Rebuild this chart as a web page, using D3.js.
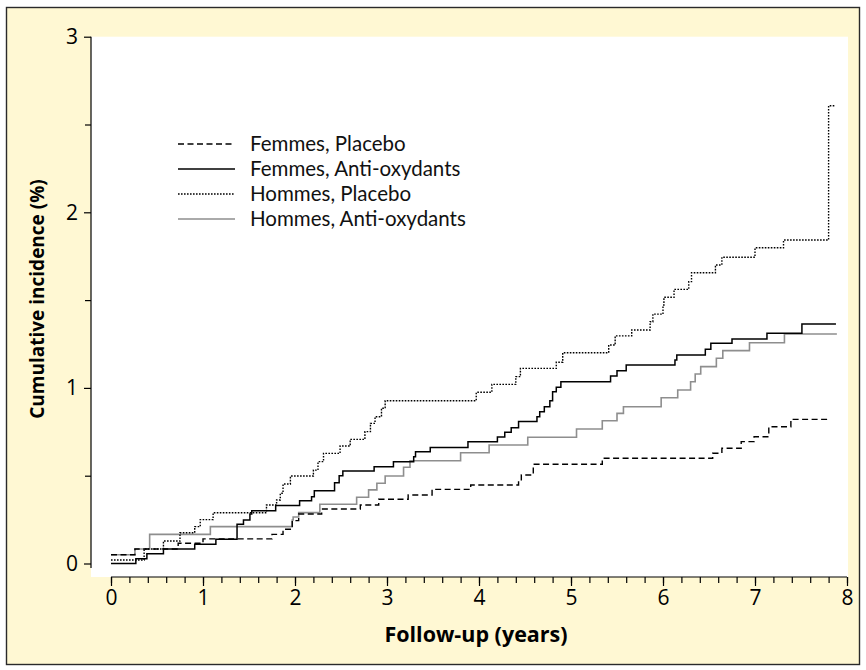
<!DOCTYPE html>
<html>
<head>
<meta charset="utf-8">
<script src="https://cdn.jsdelivr.net/npm/d3@7"></script>
<style>
  html, body { margin: 0; padding: 0; background: #ffffff; }
  svg { display: block; }
</style>
</head>
<body>
<svg id="chart" width="866" height="670"></svg>
<script>
// ---- Data ----
const seriesNames = ["Femmes, Placebo", "Femmes, Anti-oxydants", "Hommes, Placebo", "Hommes, Anti-oxydants"];

// Femmes, Placebo (dashed)
const fpTime  = [0, 0.26, 0.73, 1.0, 1.75, 1.87, 1.97, 2.04, 2.29, 2.71, 2.91, 3.23, 3.49, 3.91, 4.43, 4.46, 4.59, 5.34, 6.54, 6.64, 6.85, 6.99, 7.15, 7.39, 7.79];
const fpValue = [0.05, 0.083, 0.115, 0.14, 0.166, 0.195, 0.244, 0.282, 0.31, 0.333, 0.366, 0.39, 0.422, 0.447, 0.472, 0.504, 0.565, 0.599, 0.628, 0.656, 0.694, 0.722, 0.779, 0.821, 0.821];

// Femmes, Anti-oxydants (solid black)
const faTime  = [0, 0.27, 0.39, 0.57, 0.91, 1.14, 1.37, 1.44, 1.51, 1.53, 1.79, 2.05, 2.18, 2.21, 2.43, 2.48, 2.52, 2.86, 3.07, 3.29, 3.31, 3.47, 3.88, 4.20, 4.28, 4.35, 4.43, 4.63, 4.66, 4.71, 4.77, 4.80, 4.84, 4.89, 5.43, 5.50, 5.60, 6.13, 6.15, 6.46, 6.52, 6.75, 7.13, 7.51, 7.88];
const faValue = [0, 0.027, 0.055, 0.083, 0.109, 0.138, 0.223, 0.248, 0.282, 0.30, 0.33, 0.358, 0.38, 0.415, 0.46, 0.50, 0.527, 0.551, 0.58, 0.608, 0.637, 0.66, 0.694, 0.72, 0.747, 0.773, 0.808, 0.836, 0.864, 0.893, 0.927, 0.978, 1.003, 1.035, 1.068, 1.098, 1.13, 1.159, 1.187, 1.22, 1.254, 1.278, 1.311, 1.364, 1.364];

// Hommes, Placebo (dotted)
const hpTime  = [0, 0.36, 0.57, 0.75, 0.91, 0.97, 1.11, 1.69, 1.80, 1.84, 1.87, 1.95, 2.20, 2.25, 2.31, 2.49, 2.60, 2.76, 2.82, 2.87, 2.94, 2.98, 3.97, 4.14, 4.40, 4.45, 4.84, 4.91, 5.41, 5.48, 5.66, 5.86, 5.89, 6.0, 6.01, 6.12, 6.28, 6.31, 6.57, 6.64, 7.0, 7.31, 7.80, 7.87];
const hpValue = [0.02, 0.083, 0.128, 0.175, 0.21, 0.25, 0.289, 0.333, 0.362, 0.40, 0.453, 0.498, 0.532, 0.58, 0.627, 0.669, 0.707, 0.751, 0.798, 0.836, 0.884, 0.927, 0.975, 1.02, 1.064, 1.111, 1.146, 1.2, 1.244, 1.296, 1.33, 1.377, 1.42, 1.472, 1.516, 1.561, 1.605, 1.656, 1.70, 1.744, 1.798, 1.842, 2.607, 2.607];

// Hommes, Anti-oxydants (solid grey)
const haTime  = [0, 0.26, 0.42, 1.08, 1.97, 1.98, 2.04, 2.27, 2.67, 2.80, 2.89, 2.98, 3.18, 3.25, 3.80, 4.11, 4.53, 5.06, 5.34, 5.50, 5.57, 5.98, 6.16, 6.30, 6.35, 6.41, 6.58, 6.65, 6.94, 7.32, 7.89];
const haValue = [0.05, 0.083, 0.166, 0.21, 0.248, 0.265, 0.29, 0.337, 0.377, 0.419, 0.457, 0.498, 0.548, 0.585, 0.631, 0.675, 0.719, 0.766, 0.813, 0.855, 0.893, 0.944, 0.988, 1.035, 1.079, 1.121, 1.169, 1.212, 1.257, 1.307, 1.307];

const xMajorTicks = [0, 1, 2, 3, 4, 5, 6, 7, 8];
const xMinorTicks = d3.range(0, 8.0001, 0.2).map(d => +d.toFixed(1));
const yMajorTicks = [0, 1, 2, 3];
const yMinorTicks = [0.5, 1.5, 2.5];
const xTitle = "Follow-up (years)";
const yTitle = "Cumulative incidence (%)";

// ---- Drawing ----
const svg = d3.select("#chart");
const W = 866, H = 670;

// background + frame
svg.append("rect").attr("x", 0).attr("y", 0).attr("width", W).attr("height", H).attr("fill", "#ffffff");
svg.append("rect").attr("x", 6.5).attr("y", 7.5).attr("width", 853).attr("height", 657)
  .attr("fill", "#fff8d3").attr("stroke", "#2a2a2a").attr("stroke-width", 1.4);

const x = d3.scaleLinear().domain([0, 8]).range([111, 847]);
const y = d3.scaleLinear().domain([0, 3]).range([563.5, 36.7]);

// white plotting panel
svg.append("rect").attr("x", 91).attr("y", 36.7).attr("width", 848 - 91).attr("height", 577 - 36.7).attr("fill", "#ffffff");

const axisFont = "'Liberation Sans Narrow', 'Arial Narrow', 'Open Sans', sans-serif";
const textFont = "'Open Sans', 'Lato', sans-serif";
const legendFont = "Lato, 'Open Sans', sans-serif";

// Y axis
const yAxisG = svg.append("g").attr("transform", "translate(91,0)");
yAxisG.call(d3.axisLeft(y).tickValues(yMajorTicks).tickSize(7).tickPadding(6).tickFormat(d3.format("d")));
yAxisG.append("g").call(d3.axisLeft(y).tickValues(yMinorTicks).tickSize(6).tickFormat(""));
yAxisG.selectAll(".domain").remove();
yAxisG.append("line").attr("x1", 0).attr("x2", 0).attr("y1", y(3)).attr("y2", 568).attr("stroke", "#000").attr("stroke-width", 1.2);
yAxisG.selectAll("line").attr("stroke", "#000").attr("stroke-width", 1.2);
yAxisG.selectAll("text").attr("font-family", axisFont).attr("font-size", 21).attr("fill", "#000");

// X axis
const xAxisG = svg.append("g").attr("transform", "translate(0,577)");
xAxisG.call(d3.axisBottom(x).tickValues(xMajorTicks).tickSize(9).tickPadding(4).tickFormat(d3.format("d")));
xAxisG.append("g").call(d3.axisBottom(x).tickValues(xMinorTicks).tickSize(6).tickFormat(""));
xAxisG.selectAll(".domain").remove();
xAxisG.append("line").attr("x1", x(0)).attr("x2", x(8)).attr("y1", 0).attr("y2", 0).attr("stroke", "#000").attr("stroke-width", 1.2);
xAxisG.selectAll("line").attr("stroke", "#000").attr("stroke-width", 1.2);
xAxisG.selectAll("text").attr("font-family", axisFont).attr("font-size", 21).attr("fill", "#000");

// Axis titles
svg.append("text").attr("x", 476).attr("y", 642).attr("text-anchor", "middle")
  .attr("font-family", textFont).attr("font-weight", "bold").attr("font-size", 21.5).attr("fill", "#000")
  .text(xTitle);
svg.append("text").attr("transform", "translate(44,299) rotate(-90)").attr("text-anchor", "middle")
  .attr("font-family", textFont).attr("font-weight", "bold").attr("font-size", 19).attr("fill", "#000")
  .text(yTitle);

// Series
const styles = [
  { color: "#000000", width: 1.4, dash: "6,3.5" },
  { color: "#000000", width: 1.5, dash: null },
  { color: "#000000", width: 1.4, dash: "1.6,1.4" },
  { color: "#8e8e8e", width: 1.6, dash: null }
];
const series = [
  { name: seriesNames[0], t: fpTime, v: fpValue },
  { name: seriesNames[1], t: faTime, v: faValue },
  { name: seriesNames[2], t: hpTime, v: hpValue },
  { name: seriesNames[3], t: haTime, v: haValue }
];
const line = d3.line().x(d => x(d[0])).y(d => y(d[1])).curve(d3.curveStepAfter);

// draw grey first so black sits above
[3, 0, 2, 1].forEach(i => {
  const s = series[i], st = styles[i];
  const pts = s.t.map((t, k) => [t, s.v[k]]);
  svg.append("path").datum(pts).attr("d", line)
    .attr("fill", "none").attr("stroke", st.color).attr("stroke-width", st.width)
    .attr("stroke-dasharray", st.dash);
});

// Legend
const legend = svg.append("g").attr("transform", "translate(178,144)");
series.forEach((s, i) => {
  const st = styles[i];
  const g = legend.append("g").attr("transform", `translate(0,${i * 25})`);
  g.append("line").attr("x1", 0).attr("x2", 57).attr("y1", 0).attr("y2", 0)
    .attr("stroke", st.color).attr("stroke-width", st.width).attr("stroke-dasharray", st.dash);
  g.append("text").attr("x", 72).attr("y", 7).attr("font-family", legendFont).attr("font-size", 20.5)
    .attr("fill", "#111").text(s.name);
});
</script>
</body>
</html>
